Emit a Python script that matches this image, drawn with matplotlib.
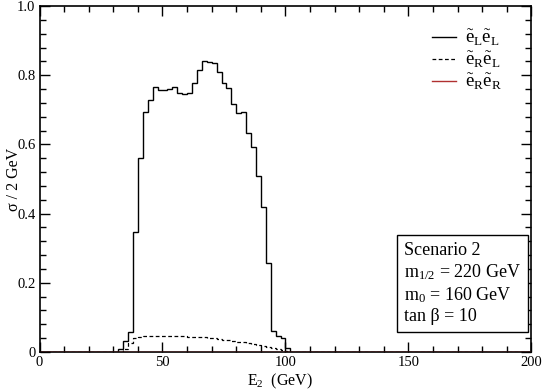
import numpy as np
import matplotlib
matplotlib.use("Agg")
import matplotlib.pyplot as plt

plt.rcParams["font.family"] = ["Liberation Serif", "DejaVu Serif"]
plt.rcParams["mathtext.fontset"] = "custom"
plt.rcParams["mathtext.rm"] = "Liberation Serif"
plt.rcParams["mathtext.it"] = "Liberation Serif"
plt.rcParams["mathtext.bf"] = "Liberation Serif:bold"

# histogram bins (2 GeV wide), first edge at 32 GeV
first_edge = 32
bin_width = 2

# e_L e_L  (solid)
sig_LL = [0.008, 0.033, 0.059, 0.348, 0.560, 0.695, 0.728, 0.765, 0.757,
          0.757, 0.760, 0.765, 0.750, 0.745, 0.750, 0.777, 0.815, 0.841,
          0.837, 0.834, 0.808, 0.777, 0.762, 0.717, 0.692, 0.694, 0.634,
          0.593, 0.510, 0.420, 0.256, 0.060, 0.045, 0.040, 0.012, 0.0]

# e_R e_L  (dashed)
sig_RL = [0.0, 0.010, 0.025, 0.040, 0.044, 0.046, 0.047, 0.047, 0.047,
          0.047, 0.046, 0.046, 0.045, 0.045, 0.044, 0.044, 0.043, 0.042,
          0.041, 0.040, 0.038, 0.036, 0.034, 0.032, 0.030, 0.028, 0.026,
          0.024, 0.021, 0.018, 0.015, 0.012, 0.009, 0.005, 0.002, 0.0]

# e_R e_R  (red, essentially zero)
sig_RR = [0.0] * len(sig_LL)

labels = [r"$\tilde{\mathrm{e}}_\mathrm{L}\tilde{\mathrm{e}}_\mathrm{L}$",
          r"$\tilde{\mathrm{e}}_\mathrm{R}\tilde{\mathrm{e}}_\mathrm{L}$",
          r"$\tilde{\mathrm{e}}_\mathrm{R}\tilde{\mathrm{e}}_\mathrm{R}$"]

info = ("Scenario 2\n"
        r"m$_{1/2}$ = 220 GeV" "\n"
        r"m$_0$ = 160 GeV" "\n"
        "tan β = 10")

# pad with empty bins over the full 0-200 range
n_lo = first_edge // bin_width
n_hi = (200 - first_edge) // bin_width - len(sig_LL)
edges = np.arange(0, 200 + bin_width, bin_width)


def pad(v):
    return np.concatenate([np.zeros(n_lo), v, np.zeros(n_hi)])


fig = plt.figure(figsize=(5.45, 3.9), dpi=100)
ax = fig.add_axes([0.0725, 0.0975, 0.9025, 0.887])

ax.stairs(pad(sig_LL), edges, color="black", lw=1.0, label=labels[0])
ax.stairs(pad(sig_RL), edges, color="black", lw=0.9, ls=(0, (3, 2)), label=labels[1])
ax.stairs(pad(sig_RR), edges, color="#b03030", lw=1.0, label=labels[2], zorder=5)

ax.set_xlim(0, 200)
ax.set_ylim(0, 1.0)
ax.set_xticks([0, 50, 100, 150, 200])
ax.set_xticks(np.arange(0, 201, 10), minor=True)
ax.set_yticks([0, 0.2, 0.4, 0.6, 0.8, 1.0])
ax.set_yticklabels(["0", "0.2", "0.4", "0.6", "0.8", "1.0"])
ax.set_yticks(np.arange(0, 1.001, 0.04), minor=True)
ax.tick_params(which="both", direction="in", top=True, right=True, labelsize=10.5)
ax.tick_params(which="major", length=7, width=1)
ax.tick_params(which="minor", length=4, width=1)
ax.tick_params(axis="x", pad=3)
ax.tick_params(axis="y", pad=3)
for s in ax.spines.values():
    s.set_linewidth(1.2)

ax.set_xlabel(r"E$_2$  (GeV)", fontsize=11.5)
ax.xaxis.set_label_coords(0.49, -0.058)
ax.set_ylabel("σ / 2 GeV", fontsize=11.5)
ax.yaxis.set_label_coords(-0.036, 0.5)

ax.legend(loc="upper right", bbox_to_anchor=(0.975, 0.985), frameon=False,
          fontsize=13.5, handlelength=1.3, handletextpad=0.5, labelspacing=0.1)

ax.text(0.741, 0.079, info, transform=ax.transAxes, fontsize=13,
        va="bottom", ha="left", linespacing=1.22,
        bbox=dict(boxstyle="square,pad=0.4", fc="white", ec="black", lw=1.0))

fig.savefig("out.png", dpi=100)
